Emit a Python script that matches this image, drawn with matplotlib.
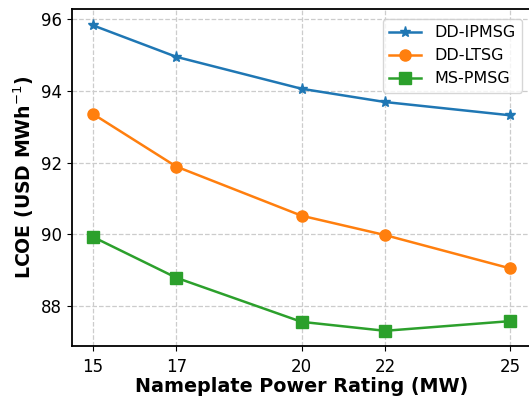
import matplotlib
matplotlib.use('Agg')
import matplotlib.pyplot as plt

# Data
ratings = [15, 17, 20, 22, 25]
dd_ipmsg = [95.83, 94.95, 94.06, 93.69, 93.32]
dd_ltsg = [93.36, 91.89, 90.52, 89.98, 89.05]
ms_pmsg = [89.93, 88.79, 87.56, 87.31, 87.58]
y_ticks = [88, 90, 92, 94, 96]

fig = plt.figure(figsize=(5.29, 3.98), dpi=100)
# axes run slightly past the right edge (reference is cropped there)
ax = fig.add_axes([0.136, 0.131, 0.868, 0.846])

ax.plot(ratings, dd_ipmsg, marker='*', markersize=8, linewidth=1.8,
        color='#1f77b4', label='DD-IPMSG')
ax.plot(ratings, dd_ltsg, marker='o', markersize=8, linewidth=1.8,
        color='#ff7f0e', label='DD-LTSG')
ax.plot(ratings, ms_pmsg, marker='s', markersize=8, linewidth=1.8,
        color='#2ca02c', label='MS-PMSG')

ax.set_xticks(ratings)
ax.set_yticks(y_ticks)
ax.set_xlim(14.5, 25.5)
ax.set_ylim(86.89, 96.28)
ax.tick_params(labelsize=12)
ax.tick_params(axis='x', pad=5)
ax.grid(True, linestyle='--', color='#cccccc', linewidth=0.9)
for spine in ax.spines.values():
    spine.set_linewidth(1.3)

ax.set_xlabel('Nameplate Power Rating (MW)', fontsize=13.8, fontweight='bold', labelpad=1)
ax.set_ylabel('LCOE (USD MWh$^{-1}$)', fontsize=13.6, fontweight='bold', labelpad=4)
ax.legend(loc='upper right', fontsize=11.5, handlelength=2.0,
          bbox_to_anchor=(0.997, 0.995))

fig.savefig('out.png', dpi=100)
